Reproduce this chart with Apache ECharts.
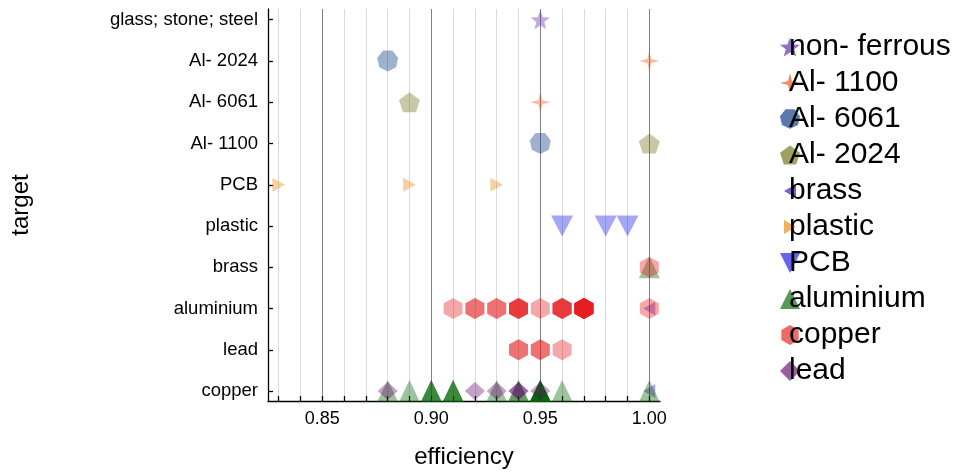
<!DOCTYPE html>
<html>
<head>
<meta charset="utf-8">
<title>efficiency by target</title>
<script src="https://cdn.jsdelivr.net/npm/echarts@6/dist/echarts.min.js"></script>
<style>
  html, body { margin: 0; padding: 0; background: #ffffff; }
  #chart { width: 955px; height: 474px; }
</style>
</head>
<body>
<div id="chart"></div>
<script>
// Target categories, bottom to top
const categories = ['copper', 'lead', 'aluminium', 'brass', 'plastic', 'PCB',
  'Al- 1100', 'Al- 6061', 'Al- 2024', 'glass; stone; steel'];

// Axis ticks and labels
const efficiencyTicks = [0.83, 0.84, 0.85, 0.86, 0.87, 0.88, 0.89, 0.90, 0.91,
  0.92, 0.93, 0.94, 0.95, 0.96, 0.97, 0.98, 0.99, 1.00];
const efficiencyLabels = [0.85, 0.90, 0.95, 1.00];

// Observations per material: [target, efficiency]; repeats are separate runs
const nonFerrous = [['glass; stone; steel', 0.95]];
const al1100 = [['Al- 2024', 1.00], ['Al- 6061', 0.95]];
const al6061 = [['Al- 2024', 0.88], ['Al- 1100', 0.95]];
const al2024 = [['Al- 6061', 0.89], ['Al- 1100', 1.00]];
const brass = [['aluminium', 1.00], ['copper', 1.00]];
const plastic = [['PCB', 0.83], ['PCB', 0.89], ['PCB', 0.93]];
const pcb = [['plastic', 0.96], ['plastic', 0.98], ['plastic', 0.99]];
const aluminium = [
  ['copper', 0.88], ['copper', 0.89],
  ['copper', 0.90], ['copper', 0.90], ['copper', 0.90],
  ['copper', 0.91], ['copper', 0.91], ['copper', 0.91],
  ['copper', 0.93],
  ['copper', 0.94], ['copper', 0.94],
  ['copper', 0.95], ['copper', 0.95], ['copper', 0.95], ['copper', 0.95],
  ['copper', 0.95], ['copper', 0.95], ['copper', 0.95],
  ['copper', 0.96], ['copper', 1.00],
  ['brass', 1.00]
];
const copper = [
  ['aluminium', 0.91],
  ['aluminium', 0.92], ['aluminium', 0.92],
  ['aluminium', 0.93], ['aluminium', 0.93],
  ['aluminium', 0.94], ['aluminium', 0.94], ['aluminium', 0.94], ['aluminium', 0.94],
  ['aluminium', 0.95],
  ['aluminium', 0.96], ['aluminium', 0.96], ['aluminium', 0.96], ['aluminium', 0.96],
  ['aluminium', 0.97], ['aluminium', 0.97], ['aluminium', 0.97], ['aluminium', 0.97],
  ['aluminium', 0.97], ['aluminium', 0.97], ['aluminium', 0.97], ['aluminium', 0.97],
  ['aluminium', 1.00],
  ['lead', 0.94], ['lead', 0.94],
  ['lead', 0.95], ['lead', 0.95],
  ['lead', 0.96],
  ['brass', 1.00]
];
const lead = [
  ['copper', 0.88], ['copper', 0.92], ['copper', 0.93],
  ['copper', 0.94], ['copper', 0.94], ['copper', 0.95]
];

// Marker shapes built as polygon paths
function polygon(n, startDeg, inner) {
  const pts = [];
  const steps = inner ? n * 2 : n;
  for (let i = 0; i < steps; i++) {
    const a = (startDeg + i * 360 / steps) * Math.PI / 180;
    const r = inner && i % 2 === 1 ? inner : 1;
    pts.push((100 + 100 * r * Math.cos(a)).toFixed(2) + ',' + (100 + 100 * r * Math.sin(a)).toFixed(2));
  }
  return 'path://M' + pts.join(' L') + ' Z';
}
// Small triangles sit inside a padded 0..200 frame (corner moves keep the frame),
// so their legend icons stay small as well
const SHAPES = {
  star5: polygon(5, -90, 0.42),
  star4: polygon(4, -90, 0.28),
  heptagon: polygon(7, 90, 0),
  pentagon: polygon(5, -90, 0),
  hexagon: polygon(6, -90, 0),
  triUp: 'path://M100,0 L200,200 L0,200 Z',
  triDown: 'path://M0,0 L200,0 L100,200 Z',
  triLeftSmall: 'path://M0,0 M200,200 M40,100 L160,30 L160,170 Z',
  triRightSmall: 'path://M0,0 M200,200 M40,30 L160,100 L40,170 Z',
  diamond: 'path://M100,0 L200,100 L100,200 L0,100 Z'
};

const materials = [
  { name: 'non- ferrous', data: nonFerrous, color: '#5b22a8', symbol: SHAPES.star5, size: [19, 19] },
  { name: 'Al- 1100', data: al1100, color: '#e84b0a', symbol: SHAPES.star4, size: [20, 21] },
  { name: 'Al- 6061', data: al6061, color: '#00327e', symbol: SHAPES.heptagon, size: [21, 21] },
  { name: 'Al- 2024', data: al2024, color: '#6e6e14', symbol: SHAPES.pentagon, size: [21, 20] },
  { name: 'brass', data: brass, color: '#3a0ab0', symbol: SHAPES.triLeftSmall, size: [20, 20] },
  { name: 'plastic', data: plastic, color: '#e8850a', symbol: SHAPES.triRightSmall, size: [21, 20] },
  { name: 'PCB', data: pcb, color: '#1414e8', symbol: SHAPES.triDown, size: [22, 21] },
  { name: 'aluminium', data: aluminium, color: '#006400', symbol: SHAPES.triUp, size: [21, 22] },
  { name: 'copper', data: copper, color: '#e41a1c', symbol: SHAPES.hexagon, size: [19, 21] },
  { name: 'lead', data: lead, color: '#64086e', symbol: SHAPES.diamond, size: [20, 18] }
];

const FONT = "'Liberation Sans', Arial, sans-serif";
const chart = echarts.init(document.getElementById('chart'), null, { renderer: 'canvas' });

chart.setOption({
  animation: false,
  backgroundColor: '#ffffff',
  textStyle: { fontFamily: FONT, color: '#000000' },
  grid: { left: 268, right: 295, top: 9, bottom: 69, containLabel: false },
  legend: {
    orient: 'vertical',
    left: 775,
    top: 27,
    itemWidth: 20,
    itemHeight: 20,
    itemGap: 6,
    itemStyle: { opacity: 0.65 },
    textStyle: { fontSize: 30, lineHeight: 30, color: '#000000', fontFamily: FONT, padding: [0, 0, 0, -16] },
    data: materials.map(m => m.name)
  },
  xAxis: {
    type: 'value',
    min: 0.8251,
    max: 1.0049,
    name: 'efficiency',
    nameLocation: 'middle',
    nameGap: 44,
    nameTextStyle: { fontSize: 24, color: '#000000', fontFamily: FONT },
    axisLine: { show: true, onZero: false, lineStyle: { color: '#000000', width: 1.3 } },
    axisTick: { show: true, inside: true, length: 5, customValues: efficiencyTicks,
      lineStyle: { color: '#000000', width: 1.3 } },
    axisLabel: { customValues: efficiencyLabels, margin: 9, fontSize: 18, color: '#000000',
      fontFamily: FONT, formatter: v => v.toFixed(2) },
    splitLine: { show: true, lineStyle: { width: 1,
      color: ['#dadada', '#dadada', '#808080', '#dadada', '#dadada'] } }
  },
  yAxis: {
    type: 'value',
    min: -0.24,
    max: 9.26,
    name: 'target',
    nameLocation: 'middle',
    nameRotate: 90,
    nameGap: 235,
    nameTextStyle: { fontSize: 24, color: '#000000', fontFamily: FONT },
    axisLine: { show: true, onZero: false, lineStyle: { color: '#000000', width: 1.3 } },
    axisTick: { show: true, inside: true, length: 5, customValues: categories.map((c, i) => i),
      lineStyle: { color: '#000000', width: 1.3 } },
    axisLabel: { customValues: categories.map((c, i) => i), margin: 10, fontSize: 18.5,
      color: '#000000', fontFamily: FONT, formatter: v => categories[Math.round(v)] },
    splitLine: { show: false }
  },
  series: materials.map(m => ({
    type: 'scatter',
    name: m.name,
    symbol: m.symbol,
    symbolSize: m.size,
    itemStyle: { color: m.color, opacity: 0.38 },
    emphasis: { disabled: true },
    data: m.data.map(d => [d[1], categories.indexOf(d[0])])
  }))
});
</script>
</body>
</html>
